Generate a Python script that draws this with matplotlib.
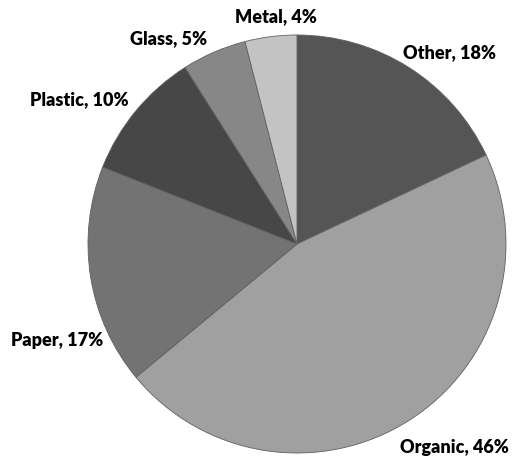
import matplotlib
matplotlib.use('Agg')
import matplotlib.pyplot as plt

# waste composition, clockwise from 12 o'clock
labels = ['Other', 'Organic', 'Paper', 'Plastic', 'Glass', 'Metal']
shares = [18, 46, 17, 10, 5, 4]
colors = ['#555555', '#a0a0a0', '#737373', '#474747', '#878787', '#c3c3c3']

# label anchor points (pie radius = 1), layout only
label_xy = [(0.73, 0.918), (0.755, -0.976), (-1.149, -0.462),
            (-1.043, 0.692), (-0.615, 0.981), (-0.102, 1.087)]

plt.rcParams['font.family'] = ['Lato', 'DejaVu Sans']

fig = plt.figure(figsize=(5.13, 4.57), dpi=100)
fig.patch.set_facecolor('white')
ax = fig.add_axes([88 / 513, 4 / 457, 418 / 513, 418 / 457])
ax.pie(shares, colors=colors, startangle=90, counterclock=False, radius=1,
       wedgeprops=dict(edgecolor='#606060', linewidth=0.6))
ax.set_xlim(-1, 1); ax.set_ylim(-1, 1)
ax.set_aspect('equal')
ax.axis('off')

for lab, val, (x, y) in zip(labels, shares, label_xy):
    ax.text(x, y, f'{lab}, {val}%', ha='center', va='center',
            fontsize=13, fontweight='heavy', color='black', clip_on=False)

plt.savefig('out.png', dpi=100)
